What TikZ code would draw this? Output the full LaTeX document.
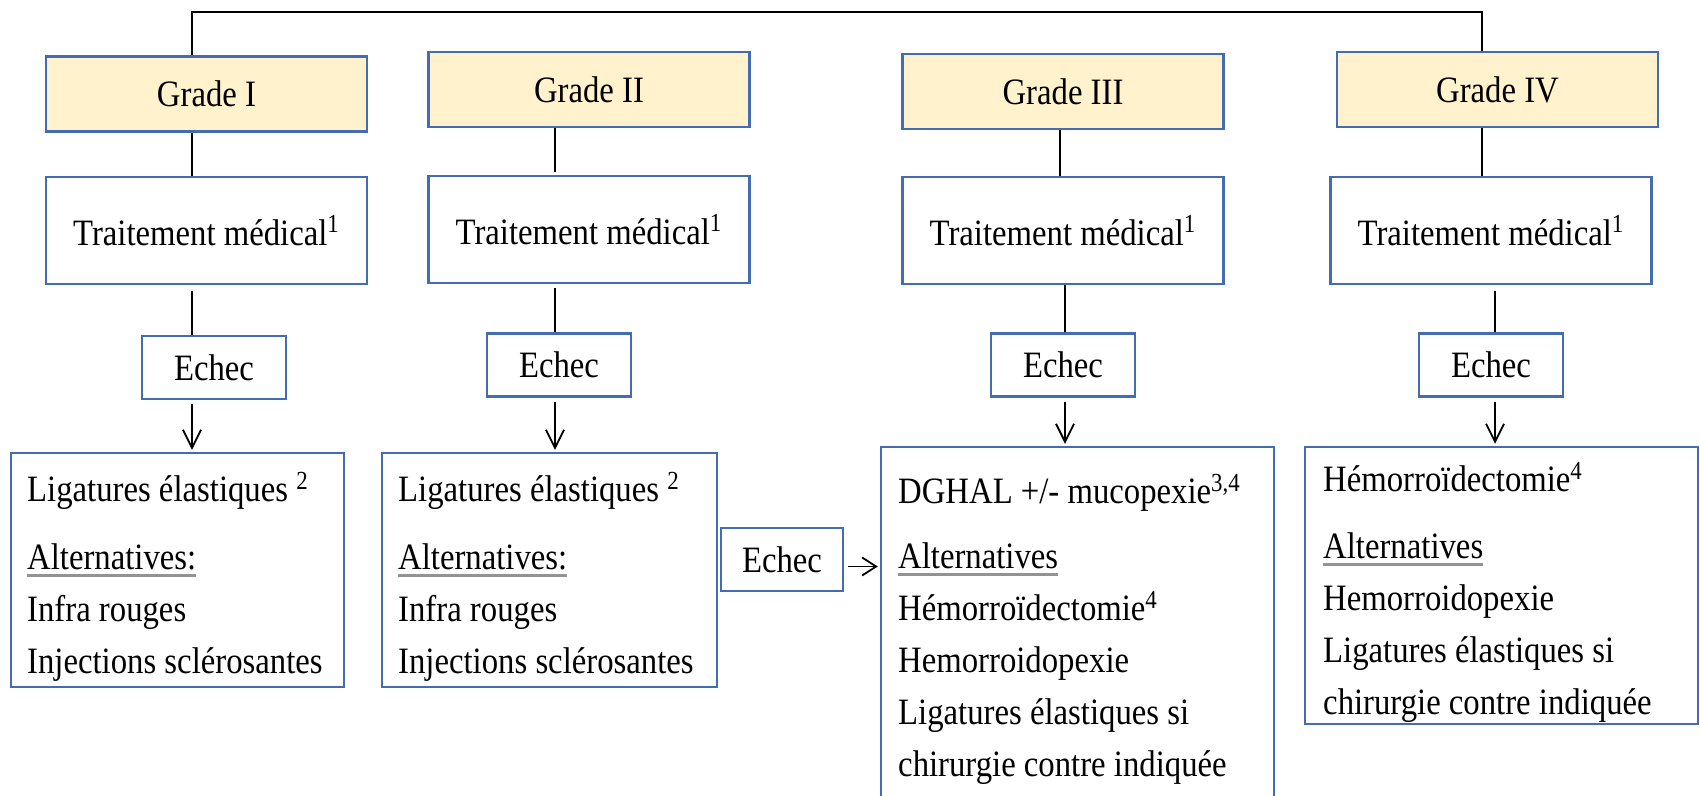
\documentclass[tikz,border=0pt]{standalone}
\usepackage{fontspec}
\setmainfont{Liberation Serif}[FakeStretch=0.88]
\usepackage{tikz}
\usetikzlibrary{arrows.meta}

\definecolor{boxblue}{RGB}{68,108,178}
\definecolor{gradefill}{RGB}{255,242,204}
\newcommand{\ulgray}[1]{\setbox0\hbox{#1}\rlap{\color{gray!85}\rule[-3.6pt]{\wd0}{1.4pt}}\box0}

\tikzset{
  txt/.style={font=\fontsize{18.6pt}{26pt}\selectfont},
  box/.style={txt, draw=boxblue, line width=1.2pt, inner sep=0pt},
  gradebox/.style={box, fill=gradefill, minimum width=160.5pt, minimum height=37.5pt},
  medbox/.style={box, minimum width=160.5pt, minimum height=53.5pt},
  echecbox/.style={box, minimum width=72pt, minimum height=31.5pt},
  link/.style={line width=0.9pt},
  arr/.style={link, -{Straight Barb[length=9pt,width=9pt]}}
}

\begin{document}
\begin{tikzpicture}[x=0.5pt, y=-0.5pt]
\useasboundingbox (0,0) rectangle (1700,796);

\node[gradebox] (g1) at (206.5,94) {Grade I};
\node[gradebox] (g2) at (589,89.5) {Grade II};
\node[gradebox] (g3) at (1063,91.5) {Grade III};
\node[gradebox] (g4) at (1497.5,89.5) {Grade IV};

\node[medbox] (tm1) at (206.5,230.5) {Traitement médical\textsuperscript{1}};
\node[medbox] (tm2) at (589,229.5) {Traitement médical\textsuperscript{1}};
\node[medbox] (tm3) at (1063,230.5) {Traitement médical\textsuperscript{1}};
\node[medbox] (tm4) at (1491,230.5) {Traitement médical\textsuperscript{1}};

\node[echecbox] (e1) at (214,367.5) {Echec};
\node[echecbox] (e2) at (559,365) {Echec};
\node[echecbox] (e3) at (1063,365) {Echec};
\node[echecbox] (e4) at (1491,365) {Echec};
\node[echecbox, minimum width=61pt] (em) at (782,559.5) {Echec};

\node[box, minimum width=166.5pt, minimum height=117pt] (b1) at (177.5,570) {};
\node[box, minimum width=167.5pt, minimum height=117pt] (b2) at (549.5,570) {};
\node[box, minimum width=196.5pt, minimum height=196.5pt] (b3) at (1077.5,643.5) {};
\node[box, minimum width=196.5pt, minimum height=138.5pt] (b4) at (1501.5,585.5) {};

\node[txt, align=left, inner sep=0pt, anchor=north west] (b1t) at ([shift={(17,20)}]b1.north west)
  {Ligatures élastiques \textsuperscript{2}\\[8pt] \ulgray{Alternatives:}\\ Infra rouges\\ Injections sclérosantes};
\node[txt, align=left, inner sep=0pt, anchor=north west] (b2t) at ([shift={(17,20)}]b2.north west)
  {Ligatures élastiques \textsuperscript{2}\\[8pt] \ulgray{Alternatives:}\\ Infra rouges\\ Injections sclérosantes};
\node[txt, align=left, inner sep=0pt, anchor=north west] (b3t) at ([shift={(18,28)}]b3.north west)
  {DGHAL +/- mucopexie\textsuperscript{3,4}\\[6.5pt] \ulgray{Alternatives}\\ Hémorroïdectomie\textsuperscript{4}\\
   Hemorroidopexie\\ Ligatures élastiques si\\ chirurgie contre indiquée};
\node[txt, align=left, inner sep=0pt, anchor=north west] (b4t) at ([shift={(19,16)}]b4.north west)
  {Hémorroïdectomie\textsuperscript{4}\\[7.5pt] \ulgray{Alternatives}\\ Hemorroidopexie\\
   Ligatures élastiques si\\ chirurgie contre indiquée};

\coordinate (k1) at (192,0);
\coordinate (k2) at (555,0);
\coordinate (k3a) at (1060,0);
\coordinate (k3) at (1065,0);
\coordinate (k4a) at (1482,0);
\coordinate (k4) at (1495,0);
\coordinate (topbar) at (800,12);

\draw[link, line width=1.2pt] (g1.north -| k1) |- (topbar) -| (g4.north -| k4a);

\draw[link] (g1.south -| k1) -- (tm1.north -| k1);
\draw[link, shorten >=1.5pt] (g2.south -| k2) -- (tm2.north -| k2);
\draw[link] (g3.south -| k3a) -- (tm3.north -| k3a);
\draw[link] (g4.south -| k4a) -- (tm4.north -| k4a);

\draw[link, shorten <=3pt] (tm1.south -| k1) -- (e1.north -| k1);
\draw[link, shorten <=2pt] (tm2.south -| k2) -- (e2.north -| k2);
\draw[link] (tm3.south -| k3) -- (e3.north -| k3);
\draw[link, shorten <=3pt] (tm4.south -| k4) -- (e4.north -| k4);

\draw[arr, shorten <=2pt, shorten >=1pt] (e1.south -| k1) -- (b1.north -| k1);
\draw[arr, shorten <=2pt, shorten >=1pt] (e2.south -| k2) -- (b2.north -| k2);
\draw[arr, shorten <=2pt, shorten >=1pt] (e3.south -| k3) -- (b3.north -| k3);
\draw[arr, shorten <=2pt, shorten >=1pt] (e4.south -| k4) -- (b4.north -| k4);
\draw[arr, -{Straight Barb[length=7pt,width=9pt]}, shorten <=2pt, shorten >=1pt] ([yshift=-3.5pt]em.east) -- ([yshift=-3.5pt]em.east -| b3.west);
\end{tikzpicture}
\end{document}
